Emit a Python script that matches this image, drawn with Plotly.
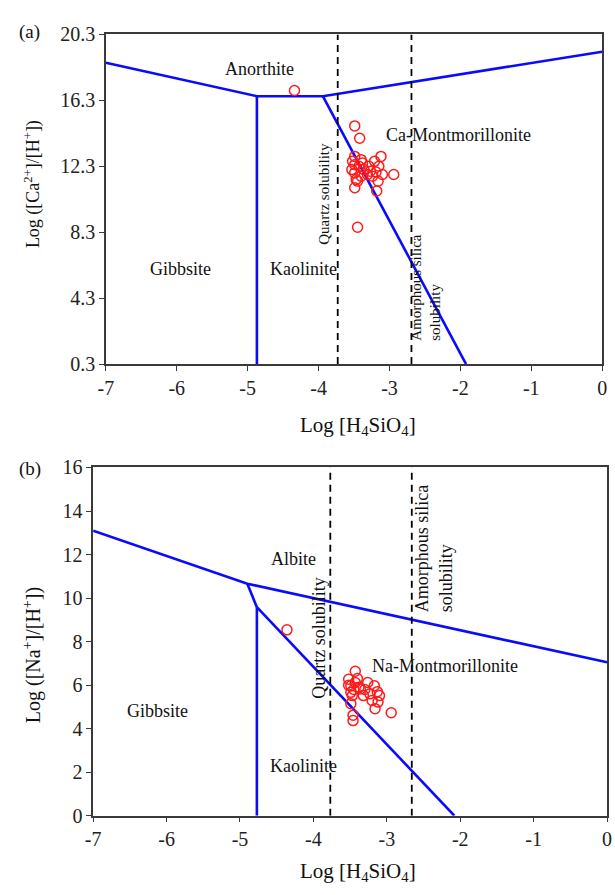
import plotly.graph_objects as go

# ---------------- data ----------------
# Panel (a): Ca system
a_boundary_upper_x = [-7.0, -4.87, -3.94, 0.0]
a_boundary_upper_y = [18.58, 16.55, 16.55, 19.25]
a_gibbs_kaol_x = [-4.87, -4.87]
a_gibbs_kaol_y = [16.55, 0.3]
a_kaol_mont_x = [-3.94, -1.92]
a_kaol_mont_y = [16.55, 0.3]
a_quartz_x = [-3.73, -3.73]
a_amorph_x = [-2.69, -2.69]
a_vert_y = [0.3, 20.3]

a_pts_x = [-4.34, -3.49, -3.42, -3.45, -2.94, -3.18, -3.49, -3.49, -3.49, -3.49,
           -3.47, -3.45, -3.38, -3.36, -3.29, -3.24, -3.21, -3.15, -3.12, -3.10,
           -3.16, -3.31, -3.40, -3.53, -3.43, -3.27, -3.19, -3.52, -3.40]
a_pts_y = [16.9, 14.75, 14.0, 8.6, 11.8, 10.8, 11.0, 12.9, 12.4, 11.9,
           11.5, 11.4, 12.5, 12.1, 12.3, 11.7, 12.6, 12.3, 12.9, 11.8,
           11.4, 11.8, 11.7, 12.1, 12.3, 12.0, 11.95, 12.6, 12.7]

a_xticks = [-7, -6, -5, -4, -3, -2, -1, 0]
a_yticks = [0.3, 4.3, 8.3, 12.3, 16.3, 20.3]

# Panel (b): Na system
b_albite_x = [-7.0, -4.9, 0.0]
b_albite_y = [13.1, 10.66, 7.05]
b_albite_kaol_x = [-4.9, -4.77]
b_albite_kaol_y = [10.66, 9.58]
b_gibbs_kaol_x = [-4.77, -4.77]
b_gibbs_kaol_y = [9.58, 0.0]
b_kaol_mont_x = [-4.77, -2.08]
b_kaol_mont_y = [9.58, 0.0]
b_quartz_x = [-3.77, -3.77]
b_amorph_x = [-2.66, -2.66]
b_vert_y = [0, 16]

b_pts_x = [-4.36, -3.43, -3.52, -3.49, -3.49, -3.47, -3.43, -3.36, -3.26, -3.17,
           -3.32, -3.23, -3.10, -3.12, -3.16, -3.20, -3.49, -3.46, -3.46, -2.94,
           -3.52, -3.40, -3.45, -3.30, -3.13, -3.38]
b_pts_y = [8.54, 6.64, 6.27, 5.97, 5.67, 5.52, 6.12, 5.82, 6.12, 5.97,
           5.52, 5.60, 5.52, 5.22, 4.92, 5.30, 5.15, 4.62, 4.37, 4.73,
           6.00, 6.30, 5.80, 5.80, 5.70, 5.90]

b_xticks = [-7, -6, -5, -4, -3, -2, -1, 0]
b_yticks = [0, 2, 4, 6, 8, 10, 12, 14, 16]

# ---------------- styling ----------------
W, H = 615, 895
FONT = "Liberation Serif"
BLUE = "#0a0aff"
RED = "#ff1a1a"

fig = go.Figure()

def line(x, y, xa, ya, color=BLUE, width=2.6, dash=None):
    fig.add_trace(go.Scatter(x=x, y=y, mode="lines", xaxis=xa, yaxis=ya,
                             line=dict(color=color, width=width, dash=dash),
                             showlegend=False, hoverinfo="skip"))

# panel a
line(a_boundary_upper_x, a_boundary_upper_y, "x", "y")
line(a_gibbs_kaol_x, a_gibbs_kaol_y, "x", "y")
line(a_kaol_mont_x, a_kaol_mont_y, "x", "y")
line(a_quartz_x, a_vert_y, "x", "y", color="black", width=1.8, dash="7px,5px")
line(a_amorph_x, a_vert_y, "x", "y", color="black", width=1.8, dash="7px,5px")
fig.add_trace(go.Scatter(x=a_pts_x, y=a_pts_y, mode="markers", xaxis="x", yaxis="y",
                         marker=dict(symbol="circle-open", size=10, color=RED,
                                     line=dict(width=1.5, color=RED)),
                         showlegend=False))

# panel b
line(b_albite_x, b_albite_y, "x2", "y2")
line(b_albite_kaol_x, b_albite_kaol_y, "x2", "y2")
line(b_gibbs_kaol_x, b_gibbs_kaol_y, "x2", "y2")
line(b_kaol_mont_x, b_kaol_mont_y, "x2", "y2")
line(b_quartz_x, b_vert_y, "x2", "y2", color="black", width=1.8, dash="7px,5px")
line(b_amorph_x, b_vert_y, "x2", "y2", color="black", width=1.8, dash="7px,5px")
fig.add_trace(go.Scatter(x=b_pts_x, y=b_pts_y, mode="markers", xaxis="x2", yaxis="y2",
                         marker=dict(symbol="circle-open", size=10, color=RED,
                                     line=dict(width=1.5, color=RED)),
                         showlegend=False))

axis_common = dict(showgrid=False, zeroline=False, showline=True, linecolor="#3a3a3a",
                   linewidth=1.5, mirror=True, ticks="outside", ticklen=5, tickwidth=1.2,
                   tickcolor="#3a3a3a", tickfont=dict(family=FONT, size=20, color="#222"))

# pixel-based domains
def xd(l, r):
    return [l / W, r / W]

def yd(top, bottom):
    return [1 - bottom / H, 1 - top / H]

fig.update_layout(
    width=W, height=H, margin=dict(l=0, r=0, t=0, b=0),
    paper_bgcolor="white", plot_bgcolor="white",
    font=dict(family=FONT),
    xaxis=dict(domain=xd(100, 607), range=[-7, 0], tickvals=a_xticks,
               ticktext=[str(v) for v in a_xticks], anchor="y", **axis_common),
    yaxis=dict(domain=yd(24, 362), range=[0.3, 20.3], tickvals=a_yticks,
               ticktext=[f"{v:.1f}" for v in a_yticks], anchor="x", **axis_common),
    xaxis2=dict(domain=xd(87, 612), range=[-7, 0], tickvals=b_xticks,
                ticktext=[str(v) for v in b_xticks], anchor="y2", **axis_common),
    yaxis2=dict(domain=yd(468, 825), range=[0, 16], tickvals=b_yticks,
                ticktext=[str(v) for v in b_yticks], anchor="x2", **axis_common),
)

ann = []
def label(text, x, y, xref, yref, size=18, angle=0, align="center"):
    ann.append(dict(text=text, x=x, y=y, xref=xref, yref=yref, showarrow=False,
                    xanchor="center", yanchor="middle",
                    textangle=angle, align=align,
                    font=dict(family=FONT, size=size, color="#111")))

# panel a labels
label("Anorthite", -4.84, 18.2, "x", "y")
label("Ca-Montmorillonite", -2.03, 14.2, "x", "y")
label("Gibbsite", -5.95, 6.06, "x", "y")
label("Kaolinite", -4.21, 6.06, "x", "y")
label("Quartz solubility", -3.92, 10.65, "x", "y", size=15, angle=-90)
label("Amorphous silica<br>solubility", -2.48, 4.95, "x", "y", size=15, angle=-90, align="left")

# panel b labels
label("Albite", -4.27, 11.8, "x2", "y2")
label("Na-Montmorillonite", -2.21, 6.87, "x2", "y2")
label("Gibbsite", -6.12, 4.82, "x2", "y2")
label("Kaolinite", -4.14, 2.28, "x2", "y2")
label("Quartz solubility", -3.92, 8.15, "x2", "y2", size=18, angle=-90)
label("Amorphous silica<br>solubility", -2.36, 12.28, "x2", "y2", size=18, angle=-90, align="left")

# axis titles & panel tags (paper coords)
label("Log [H<sub>4</sub>SiO<sub>4</sub>]", 358 / W, 1 - 425 / H, "paper", "paper", size=21)
label("Log [H<sub>4</sub>SiO<sub>4</sub>]", 358 / W, 1 - 883 / H, "paper", "paper", size=21)
label("Log ([Ca<sup>2+</sup>]/[H<sup>+</sup>])", 25 / W, 1 - 177 / H, "paper", "paper", size=18, angle=-90)
label("Log ([Na<sup>+</sup>]/[H<sup>+</sup>])", 25 / W, 1 - 660 / H, "paper", "paper", size=20, angle=-90)
label("(a)", 22 / W, 1 - 22 / H, "paper", "paper", size=19)
label("(b)", 22 / W, 1 - 470 / H, "paper", "paper", size=19)

fig.update_layout(annotations=ann)
fig.write_html("out.html")
